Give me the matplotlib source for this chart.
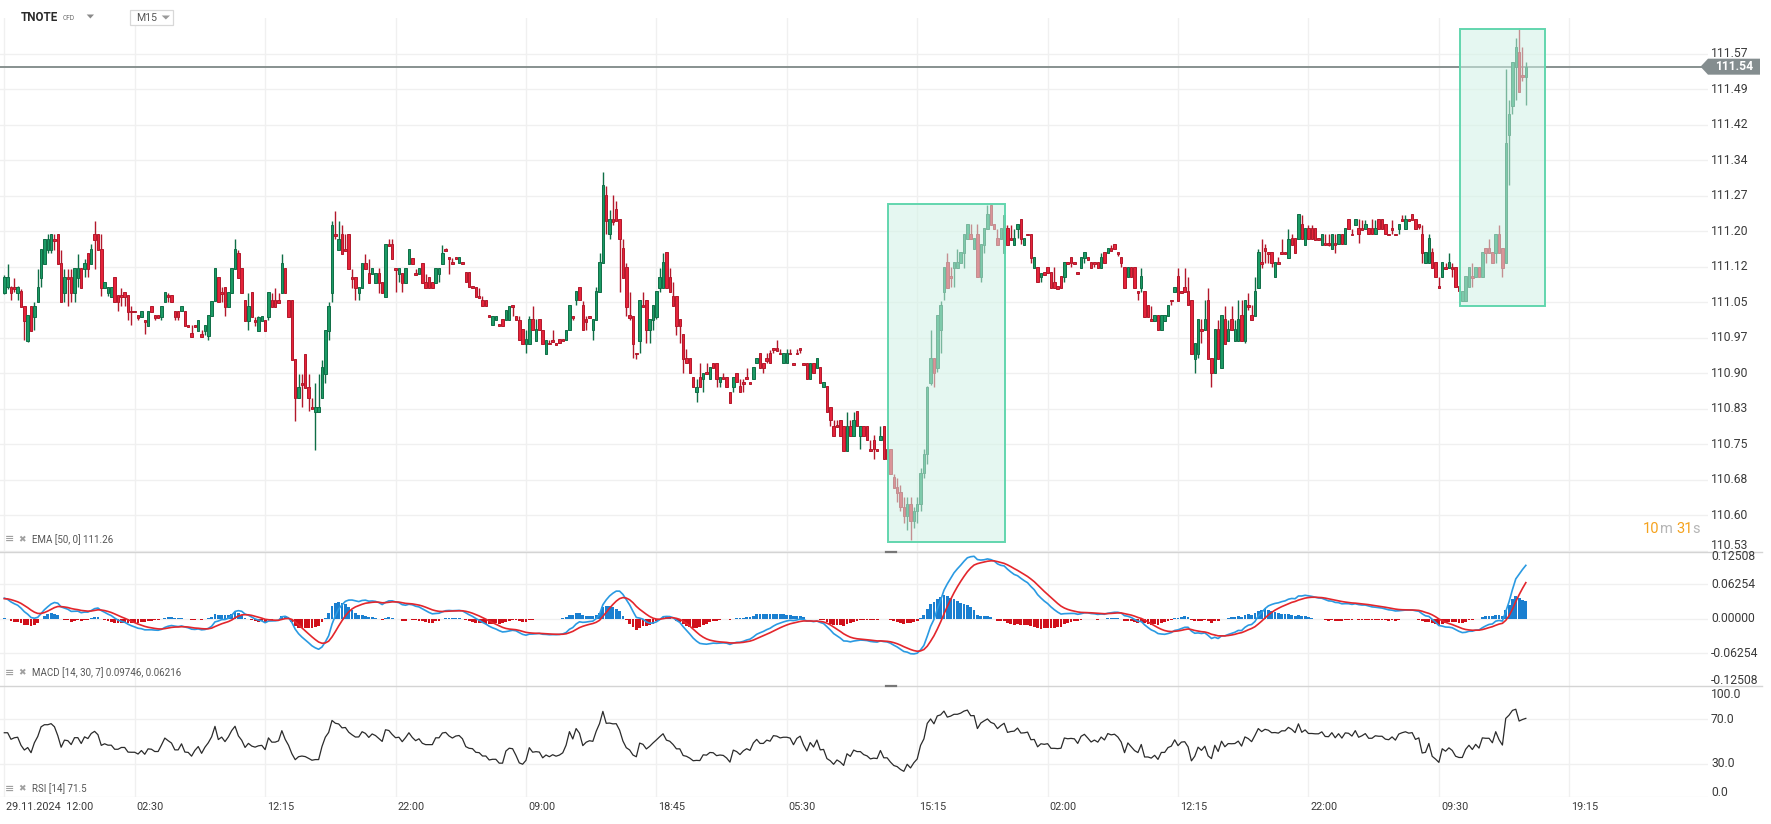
import numpy as np
import pandas as pd
import matplotlib
matplotlib.use("Agg")
import matplotlib.pyplot as plt
from matplotlib.patches import Rectangle, Polygon
from matplotlib import transforms
from matplotlib.lines import Line2D

# ---------------- data (M15 candles) ----------------
open_ = [
111.067,111.079,111.079,111.079,111.067,111.070,111.039,110.967,111.039,111.016,
111.048,111.099,111.128,111.157,111.157,111.180,111.190,111.129,111.067,111.101,
111.100,111.067,111.099,111.119,111.117,111.150,111.128,111.190,111.190,111.159,
111.078,111.067,111.058,111.100,111.062,111.062,111.069,111.062,111.029,111.029,
111.020,111.016,111.011,110.998,111.039,111.020,111.020,111.016,111.048,111.062,
111.062,111.029,111.029,111.029,111.029,111.000,110.982,111.000,110.987,110.980,
110.987,110.977,111.018,111.050,111.100,111.069,111.079,111.037,111.067,111.117,
111.150,111.119,111.051,111.008,111.069,111.011,110.987,111.008,111.011,111.016,
111.051,111.051,111.051,111.067,111.119,111.051,111.051,110.929,110.847,110.879,
110.940,110.870,110.828,110.818,110.818,110.847,110.898,110.987,111.067,111.190,
111.157,111.190,111.159,111.190,111.101,111.100,111.067,111.078,111.129,111.108,
111.107,111.088,111.108,111.090,111.058,111.170,111.170,111.119,111.107,111.108,
111.088,111.128,111.140,111.108,111.107,111.129,111.090,111.100,111.090,111.088,
111.107,111.128,111.159,111.140,111.131,111.140,111.129,111.131,111.110,111.110,
111.080,111.080,111.061,111.051,111.051,111.019,111.000,111.010,111.000,111.012,
111.010,111.010,111.040,111.019,111.010,110.991,110.959,110.959,111.012,110.967,
111.012,110.989,110.939,110.961,110.968,110.961,110.970,110.970,110.968,110.989,
111.019,111.051,111.080,111.042,111.012,111.019,110.989,111.010,111.068,111.129,
111.271,111.190,111.221,111.242,111.221,111.160,111.120,111.021,111.019,110.941,
110.967,111.042,111.051,110.989,111.010,111.017,111.078,111.078,111.152,111.101,
111.061,111.061,111.012,110.981,110.930,110.930,110.890,110.859,110.890,110.887,
110.900,110.887,110.920,110.920,110.880,110.890,110.890,110.860,110.869,110.900,
110.872,110.880,110.890,110.880,110.887,110.920,110.941,110.920,110.930,110.941,
110.951,110.951,110.941,110.920,110.920,110.941,110.920,110.941,110.951,110.920,
110.920,110.887,110.920,110.909,110.911,110.869,110.872,110.829,110.789,110.789,
110.800,110.789,110.737,110.789,110.768,110.820,110.768,110.789,110.789,110.740,
110.759,110.740,110.759,110.789,110.740,110.740,110.681,110.660,110.650,110.620,
110.600,110.625,110.590,110.610,110.625,110.690,110.730,110.878,110.930,110.909,
110.989,111.068,111.131,111.102,111.118,111.118,111.129,111.150,111.179,111.191,
111.158,111.191,111.100,111.168,111.200,111.251,111.211,111.181,111.179,111.151,
111.202,111.181,111.168,111.200,111.221,111.168,111.191,111.191,111.118,111.120,
111.100,111.110,111.120,111.110,111.089,111.081,111.102,111.100,111.131,111.141,
111.131,111.110,111.118,111.139,111.141,111.131,111.131,111.131,111.118,111.152,
111.150,111.160,111.170,111.152,111.141,111.120,111.100,111.120,111.120,111.071,
111.078,111.071,111.042,111.012,111.009,111.020,110.989,111.009,111.019,111.052,
111.069,111.102,111.071,111.080,111.071,111.052,110.928,110.938,110.991,110.989,
111.052,110.930,110.899,110.991,110.909,111.012,110.967,111.012,110.967,110.967,
111.020,110.967,111.042,111.020,111.019,111.078,111.131,111.160,111.152,111.152,
111.100,111.131,111.152,111.152,111.139,111.181,111.181,111.179,111.211,111.168,
111.202,111.202,111.202,111.181,111.168,111.170,111.171,111.158,111.171,111.169,
111.191,111.169,111.221,111.191,111.208,111.202,111.202,111.200,111.202,111.202,
111.189,111.221,111.221,111.211,111.191,111.202,111.191,111.200,111.221,111.200,
111.221,111.231,111.221,111.211,111.191,111.129,111.129,111.152,111.131,111.081,
111.100,111.122,111.118,111.122,111.122,111.081,111.049,111.049,111.079,111.102,
111.100,111.120,111.100,111.160,111.160,111.152,111.150,111.191,111.160,111.129,
111.398,111.458,111.540,111.571,111.523,111.519]

high = [
111.104,111.128,111.082,111.099,111.082,111.076,111.039,111.020,111.039,111.048,
111.117,111.159,111.180,111.189,111.190,111.189,111.190,111.157,111.117,111.117,
111.117,111.119,111.149,111.119,111.138,111.150,111.170,111.218,111.190,111.189,
111.090,111.079,111.079,111.100,111.062,111.078,111.069,111.062,111.039,111.029,
111.020,111.029,111.011,111.029,111.039,111.020,111.020,111.039,111.069,111.067,
111.062,111.029,111.029,111.039,111.029,111.000,110.999,111.000,111.011,110.989,
111.000,111.020,111.050,111.119,111.100,111.079,111.079,111.069,111.119,111.179,
111.157,111.119,111.051,111.067,111.069,111.016,111.018,111.019,111.011,111.069,
111.067,111.078,111.067,111.149,111.119,111.051,111.051,110.929,110.898,110.898,
110.940,110.898,110.847,110.879,110.898,110.927,110.990,111.048,111.218,111.239,
111.218,111.208,111.190,111.190,111.117,111.100,111.079,111.129,111.149,111.138,
111.119,111.108,111.119,111.090,111.170,111.179,111.179,111.119,111.119,111.108,
111.119,111.159,111.140,111.117,111.119,111.129,111.107,111.100,111.090,111.119,
111.119,111.168,111.161,111.140,111.139,111.140,111.141,111.131,111.110,111.110,
111.080,111.080,111.078,111.061,111.051,111.019,111.019,111.019,111.000,111.012,
111.031,111.040,111.040,111.019,111.019,110.991,110.989,111.019,111.039,111.012,
111.012,110.989,110.968,110.968,110.989,110.961,110.970,110.970,110.989,111.042,
111.019,111.070,111.080,111.049,111.019,111.019,111.012,111.080,111.151,111.320,
111.290,111.240,111.271,111.259,111.221,111.179,111.129,111.068,111.019,110.941,
111.051,111.068,111.051,111.012,111.042,111.070,111.118,111.150,111.152,111.118,
111.089,111.061,111.012,110.981,110.950,110.930,110.890,110.887,110.920,110.900,
110.920,110.911,110.920,110.920,110.890,110.900,110.890,110.860,110.890,110.900,
110.887,110.887,110.909,110.880,110.911,110.930,110.941,110.920,110.941,110.948,
110.951,110.968,110.950,110.941,110.950,110.950,110.920,110.950,110.951,110.920,
110.920,110.920,110.920,110.930,110.911,110.880,110.872,110.829,110.800,110.800,
110.800,110.789,110.818,110.800,110.818,110.820,110.789,110.789,110.789,110.759,
110.770,110.740,110.789,110.789,110.740,110.740,110.688,110.679,110.665,110.640,
110.640,110.640,110.620,110.640,110.700,110.740,110.872,110.989,110.930,111.021,
111.050,111.120,111.150,111.120,111.131,111.158,111.152,111.191,111.211,111.211,
111.181,111.211,111.170,111.202,111.251,111.251,111.211,111.200,111.202,111.230,
111.209,111.209,111.200,111.211,111.221,111.181,111.191,111.191,111.141,111.120,
111.109,111.110,111.120,111.110,111.120,111.081,111.102,111.131,111.131,111.141,
111.131,111.110,111.141,111.152,111.141,111.131,111.131,111.131,111.150,111.152,
111.160,111.167,111.170,111.152,111.141,111.120,111.120,111.120,111.120,111.071,
111.118,111.071,111.042,111.040,111.020,111.020,111.020,111.020,111.042,111.052,
111.080,111.118,111.071,111.118,111.100,111.052,110.961,111.012,111.012,111.052,
111.078,110.930,110.991,111.010,111.020,111.040,111.010,111.040,111.010,111.052,
111.052,111.052,111.067,111.042,111.100,111.158,111.179,111.170,111.152,111.152,
111.131,111.141,111.179,111.152,111.200,111.191,111.181,111.231,111.230,111.202,
111.209,111.209,111.202,111.181,111.191,111.191,111.189,111.191,111.189,111.191,
111.191,111.202,111.221,111.200,111.221,111.221,111.219,111.219,111.202,111.221,
111.219,111.221,111.221,111.211,111.191,111.219,111.191,111.211,111.230,111.230,
111.221,111.231,111.221,111.211,111.209,111.152,111.189,111.160,111.131,111.100,
111.131,111.129,111.150,111.129,111.122,111.081,111.070,111.102,111.120,111.129,
111.120,111.120,111.152,111.160,111.179,111.152,111.191,111.209,111.160,111.536,
111.470,111.550,111.599,111.620,111.582,111.550]

low = [
111.065,111.076,111.051,111.069,111.051,111.037,110.968,110.965,110.987,110.989,
111.048,111.079,111.128,111.150,111.150,111.157,111.128,111.048,111.048,111.039,
111.048,111.048,111.079,111.078,111.100,111.100,111.128,111.117,111.157,111.060,
111.078,111.060,111.058,111.048,111.029,111.039,111.039,111.010,110.999,111.026,
111.010,111.016,110.980,110.998,111.027,111.010,111.015,111.010,111.048,111.048,
111.048,111.010,111.010,111.029,110.998,110.996,110.975,110.996,110.987,110.975,
110.978,110.968,111.018,111.050,111.048,111.048,111.018,111.037,111.067,111.117,
111.099,111.067,111.008,110.989,111.016,110.998,110.987,111.008,110.987,111.011,
111.037,111.037,111.046,111.067,111.067,111.016,110.927,110.799,110.847,110.828,
110.868,110.820,110.824,110.739,110.818,110.847,110.879,110.968,111.048,111.179,
111.157,111.149,111.154,111.117,111.078,111.051,111.051,111.078,111.117,111.088,
111.107,111.088,111.067,111.067,111.058,111.165,111.138,111.069,111.090,111.069,
111.088,111.128,111.128,111.105,111.107,111.088,111.078,111.078,111.078,111.088,
111.090,111.128,111.154,111.107,111.127,111.138,111.129,111.127,111.089,111.080,
111.078,111.059,111.057,111.039,111.039,111.017,111.000,111.010,110.998,110.998,
111.010,111.010,111.019,111.010,110.968,110.959,110.941,110.959,110.989,110.967,
110.989,110.959,110.939,110.959,110.965,110.958,110.961,110.967,110.968,110.989,
111.010,111.042,111.051,110.989,110.989,111.015,110.968,111.010,111.068,111.129,
111.190,111.179,111.209,111.218,111.069,111.099,111.019,111.010,110.930,110.929,
110.941,111.038,110.961,110.961,110.989,111.012,111.069,111.078,111.078,111.068,
111.039,110.979,110.961,110.900,110.920,110.899,110.869,110.839,110.869,110.860,
110.897,110.887,110.909,110.871,110.869,110.887,110.869,110.837,110.860,110.880,
110.859,110.860,110.886,110.876,110.887,110.920,110.909,110.900,110.920,110.920,
110.941,110.945,110.938,110.920,110.920,110.938,110.915,110.938,110.941,110.915,
110.887,110.887,110.899,110.909,110.878,110.869,110.818,110.789,110.768,110.786,
110.768,110.737,110.737,110.768,110.768,110.789,110.740,110.768,110.759,110.737,
110.720,110.737,110.759,110.720,110.720,110.688,110.658,110.630,110.610,110.585,
110.570,110.550,110.575,110.585,110.610,110.680,110.710,110.875,110.871,110.902,
110.941,111.052,111.078,111.080,111.080,111.118,111.129,111.118,111.179,111.179,
111.158,111.100,111.090,111.150,111.200,111.209,111.200,111.168,111.179,111.151,
111.168,111.177,111.168,111.181,111.170,111.168,111.187,111.130,111.118,111.089,
111.090,111.105,111.109,111.078,111.078,111.076,111.078,111.090,111.127,111.120,
111.127,111.106,111.118,111.130,111.136,111.118,111.122,111.118,111.118,111.129,
111.150,111.155,111.158,111.144,111.120,111.078,111.100,111.100,111.078,111.052,
111.069,111.017,111.017,111.008,111.009,110.989,110.989,111.009,111.019,111.042,
111.069,111.049,111.067,111.069,111.042,110.938,110.900,110.930,110.961,110.989,
110.928,110.871,110.899,110.928,110.909,110.960,110.967,110.989,110.967,110.967,
110.967,110.961,111.031,111.010,111.019,111.078,111.118,111.130,111.130,111.120,
111.100,111.127,111.148,111.148,111.139,111.168,111.150,111.179,111.179,111.168,
111.179,111.179,111.177,111.177,111.168,111.167,111.164,111.158,111.151,111.169,
111.169,111.169,111.200,111.187,111.208,111.171,111.198,111.200,111.189,111.189,
111.189,111.200,111.200,111.189,111.187,111.191,111.187,111.191,111.217,111.200,
111.217,111.219,111.200,111.200,111.129,111.129,111.129,111.118,111.100,111.077,
111.100,111.116,111.118,111.101,111.079,111.070,111.049,111.049,111.079,111.080,
111.100,111.100,111.100,111.129,111.150,111.129,111.129,111.150,111.101,111.129,
111.293,111.442,111.470,111.488,111.510,111.460]

close = [
111.100,111.100,111.067,111.076,111.079,111.037,111.008,111.020,110.987,111.039,
111.079,111.159,111.180,111.180,111.190,111.175,111.128,111.048,111.100,111.096,
111.067,111.119,111.119,111.078,111.129,111.117,111.159,111.178,111.157,111.078,
111.090,111.079,111.079,111.048,111.048,111.058,111.058,111.027,111.026,111.026,
111.015,111.029,111.007,111.029,111.027,111.015,111.015,111.039,111.069,111.058,
111.048,111.016,111.016,111.039,110.998,110.996,110.975,110.996,111.011,110.975,
111.000,111.020,111.050,111.119,111.048,111.065,111.037,111.069,111.119,111.159,
111.099,111.067,111.008,111.039,111.016,111.007,111.016,111.019,110.987,111.069,
111.037,111.037,111.046,111.129,111.067,111.016,110.927,110.847,110.870,110.875,
110.868,110.847,110.824,110.828,110.828,110.911,110.990,111.039,111.209,111.186,
111.180,111.149,111.154,111.117,111.096,111.078,111.079,111.129,111.117,111.088,
111.119,111.108,111.088,111.067,111.170,111.165,111.138,111.115,111.119,111.088,
111.119,111.159,111.128,111.105,111.119,111.088,111.078,111.078,111.078,111.119,
111.119,111.150,111.154,111.137,111.127,111.138,111.141,111.127,111.089,111.080,
111.078,111.059,111.057,111.039,111.039,111.017,111.019,111.019,110.998,110.998,
111.031,111.040,111.038,111.010,110.968,110.959,110.970,111.012,110.989,110.991,
110.989,110.959,110.968,110.959,110.965,110.958,110.961,110.967,110.989,111.042,
111.015,111.070,111.051,110.989,111.007,111.015,111.012,111.070,111.131,111.292,
111.218,111.221,111.216,111.218,111.179,111.099,111.038,111.015,110.959,110.938,
111.051,111.038,110.989,111.012,111.042,111.070,111.101,111.131,111.078,111.068,
111.039,110.998,110.998,110.929,110.920,110.899,110.869,110.871,110.869,110.900,
110.897,110.911,110.909,110.887,110.890,110.887,110.869,110.837,110.890,110.880,
110.859,110.876,110.886,110.876,110.911,110.930,110.909,110.909,110.925,110.920,
110.947,110.945,110.938,110.941,110.941,110.938,110.915,110.938,110.947,110.915,
110.887,110.920,110.899,110.930,110.878,110.880,110.818,110.800,110.768,110.786,
110.768,110.737,110.789,110.768,110.800,110.789,110.789,110.768,110.759,110.737,
110.740,110.737,110.768,110.720,110.720,110.688,110.658,110.648,110.620,110.600,
110.625,110.590,110.610,110.625,110.690,110.730,110.870,110.930,110.899,111.021,
111.042,111.120,111.078,111.097,111.131,111.131,111.152,111.191,111.211,111.179,
111.181,111.100,111.170,111.202,111.231,111.209,111.200,111.168,111.202,111.230,
111.168,111.177,111.181,111.211,111.179,111.181,111.187,111.139,111.141,111.089,
111.109,111.105,111.109,111.078,111.078,111.076,111.078,111.131,111.127,111.129,
111.127,111.106,111.141,111.152,111.136,111.118,111.127,111.118,111.141,111.129,
111.160,111.155,111.158,111.148,111.129,111.078,111.120,111.100,111.078,111.066,
111.102,111.017,111.017,111.008,111.020,110.989,111.020,111.020,111.042,111.049,
111.080,111.049,111.067,111.069,111.042,110.938,110.961,111.012,110.987,111.012,
110.928,110.899,110.991,110.928,111.020,110.960,110.991,110.989,110.991,111.012,
110.967,111.052,111.037,111.010,111.071,111.152,111.127,111.155,111.148,111.129,
111.131,111.127,111.148,111.148,111.179,111.168,111.150,111.231,111.179,111.202,
111.179,111.179,111.177,111.177,111.191,111.167,111.166,111.191,111.166,111.191,
111.169,111.202,111.200,111.187,111.221,111.189,111.198,111.211,111.189,111.189,
111.202,111.200,111.200,111.189,111.187,111.198,111.187,111.211,111.217,111.221,
111.217,111.219,111.200,111.205,111.150,111.152,111.181,111.118,111.100,111.077,
111.131,111.116,111.131,111.116,111.079,111.070,111.070,111.102,111.120,111.097,
111.120,111.100,111.152,111.150,111.150,111.129,111.191,111.150,111.118,111.381,
111.442,111.550,111.582,111.488,111.518,111.540]

time_labels = ["29.11.2024  12:00", "02:30", "12:15", "22:00", "09:00", "18:45",
               "05:30", "15:15", "02:00", "12:15", "22:00", "09:30", "19:15"]
bars_per_label = 39

price_labels = ["110.53", "110.60", "110.68", "110.75", "110.83", "110.90", "110.97",
                "111.05", "111.12", "111.20", "111.27", "111.34", "111.42", "111.49", "111.57"]
price_grid_start = 110.528
price_grid_step = 0.07425
macd_labels = ["0.12508", "0.06254", "0.00000", "-0.06254", "-0.12508"]
macd_grid = [0.06254, 0.0, -0.06254]
rsi_labels = ["100.0", "70.0", "30.0", "0.0"]
rsi_grid = [70, 30, 0]
last_price = 111.54

box_start = [264.35, 435.4]
box_end = [299.3, 460.6]
box_low = [110.545, 111.039]
box_high = [111.252, 111.618]

macd_fast, macd_slow, macd_sig = 14, 30, 7
rsi_period = 14
# indicator readings at the left edge of the chart (history before the first bar)
macd_at_start = 0.040
signal_at_start = 0.036
rsi_at_start = 58.0

# ---------------- layout helpers ----------------
W, H = 1771, 824
plt.rcParams['font.family'] = ['Roboto', 'DejaVu Sans']
fig = plt.figure(figsize=(W / 100, H / 100), dpi=100)
fig.patch.set_facecolor('white')

def rect(l, t, r, b):
    return [l / W, 1 - b / H, (r - l) / W, (b - t) / H]

def fx(px):
    return px / W

def fy(py):
    return 1 - py / H

PLOT_R = 1708
ax = fig.add_axes(rect(0, 18, PLOT_R, 552))
axm = fig.add_axes(rect(0, 552, PLOT_R, 686))
axr = fig.add_axes(rect(0, 686, PLOT_R, 797.3))

n = len(close)
idx = np.arange(n)
o = np.array(open_); hi = np.array(high); lo = np.array(low); cl = np.array(close)
xlim = (-1.286, 509.48)

GRID = '#f0f0f0'
for a in (ax, axm, axr):
    a.set_xlim(*xlim)
    a.set_axis_off()
    for k in range(len(time_labels)):
        a.axvline(k * bars_per_label, color=GRID, lw=1, zorder=0)

# ---------------- main price panel ----------------
ax.set_ylim(110.5249, 111.6418)
grid_vals = [price_grid_start + k * price_grid_step for k in range(len(price_labels))]
for v in grid_vals:
    ax.axhline(v, color=GRID, lw=1, zorder=0)

ax.axhline(last_price, color='#87918f', lw=1.4, zorder=1)

up = cl >= o
edge = np.where(up, '#0f6e46', '#b3182b')
face = np.where(up, '#1b9a65', '#e5233a')
wlo = np.minimum(lo, np.minimum(o, cl))
whi = np.maximum(hi, np.maximum(o, cl))
ax.vlines(idx, wlo, whi, colors=edge, lw=1.0, zorder=2)
body_lo = np.minimum(o, cl)
body_h = np.maximum(np.abs(cl - o), 0.004)
ax.bar(idx, body_h, bottom=body_lo, width=0.74, color=face, edgecolor=edge,
       linewidth=0.7, zorder=3)

for x0, x1, y0, y1 in zip(box_start, box_end, box_low, box_high):
    ax.add_patch(Rectangle((x0, y0), x1 - x0, y1 - y0, facecolor=(0.82, 0.95, 0.90),
                           alpha=0.55, edgecolor='none', zorder=4))
    ax.add_patch(Rectangle((x0, y0), x1 - x0, y1 - y0, fill=False,
                           edgecolor='#62d6ae', lw=1.4, zorder=5))

# right price labels
TXT = '#3a3a3a'
lab_tr = transforms.blended_transform_factory(fig.transFigure, ax.transData)
for k, (v, s) in enumerate(zip(grid_vals, price_labels)):
    tr = lab_tr
    if k == 0:
        tr = transforms.offset_copy(lab_tr, fig=fig, y=5.5, units='dots')
    fig.text(fx(1711), v, s, transform=tr, ha='left', va='center',
             fontsize=8.7, color=TXT)

# price tag
tag_y = ax.transData.transform((0, last_price))[1]
ty = H - tag_y
tag = Polygon([(fx(1700.5), fy(ty)), (fx(1708), fy(ty - 8)), (fx(1760), fy(ty - 8)),
               (fx(1760), fy(ty + 8)), (fx(1708), fy(ty + 8))], closed=True,
              transform=fig.transFigure, facecolor='#848d8f', edgecolor='none')
fig.patches.append(tag)
fig.text(fx(1734), fy(ty), f"{last_price:.2f}", ha='center', va='center',
         fontsize=8.7, color='white', fontweight='bold')

# ---------------- MACD panel ----------------
def ema(values, span, start):
    alpha = 2.0 / (span + 1)
    out = np.empty(len(values))
    prev = start
    for i, v in enumerate(values):
        prev = alpha * v + (1 - alpha) * prev
        out[i] = prev
    return out

fast = ema(cl, macd_fast, cl[0])
slow = ema(cl, macd_slow, cl[0] - macd_at_start)
macd = fast - slow
signal = ema(macd, macd_sig, signal_at_start)
hist = macd - signal

axm.set_ylim(-0.1223, 0.1212)
for v in macd_grid:
    axm.axhline(v, color=GRID, lw=1, zorder=0)
hcol = np.where(hist >= 0, '#1a7fd0', '#d0101a')
axm.bar(idx, hist, width=0.85, color=hcol, zorder=2)
axm.plot(idx, macd, color='#2a9ae2', lw=1.2, zorder=3)
axm.plot(idx, signal, color='#e3262c', lw=1.2, zorder=3)

m_tr = transforms.blended_transform_factory(fig.transFigure, axm.transData)
macd_label_pos = [0.1127, 0.06254, 0.0, -0.06254, -0.1127]
for v, s in zip(macd_label_pos, macd_labels):
    fig.text(fx(1711), v, s, transform=m_tr, ha='left', va='center', fontsize=8.7, color=TXT)

# ---------------- RSI panel (Wilder smoothing) ----------------
delta = np.diff(cl, prepend=cl[0])
scale = np.mean(np.abs(delta[1:rsi_period + 1]))
avg_g = scale * rsi_at_start / 100.0
avg_l = scale * (1 - rsi_at_start / 100.0)
rsi = np.empty(n)
for i in range(n):
    d = delta[i]
    avg_g = (avg_g * (rsi_period - 1) + max(d, 0)) / rsi_period
    avg_l = (avg_l * (rsi_period - 1) + max(-d, 0)) / rsi_period
    rsi[i] = 100 - 100 / (1 + avg_g / avg_l) if avg_l > 0 else 100

axr.set_ylim(0, 100)
for v in rsi_grid:
    axr.axhline(v, color=GRID, lw=1, zorder=0)
axr.plot(idx, rsi, color='#2b2b2b', lw=0.9, zorder=3)
r_tr = transforms.blended_transform_factory(fig.transFigure, axr.transData)
rsi_label_pos = [92.6, 70, 30, 4.5]
for v, s in zip(rsi_label_pos, rsi_labels):
    fig.text(fx(1711), v, s, transform=r_tr, ha='left', va='center', fontsize=8.7, color=TXT)

# ---------------- separators ----------------
for yy in (552, 686):
    fig.add_artist(Line2D([0, fx(1762)], [fy(yy), fy(yy)], color='#d4d4d4', lw=1))
    fig.add_artist(Line2D([fx(886), fx(896)], [fy(yy), fy(yy)], color='#777777', lw=1.6))

# ---------------- x labels ----------------
from matplotlib import font_manager
names = {f.name for f in font_manager.fontManager.ttflist}
xfam = 'Liberation Sans Narrow' if 'Liberation Sans Narrow' in names else 'Roboto'
x_tr = transforms.offset_copy(transforms.blended_transform_factory(axr.transData, fig.transFigure),
                              fig=fig, x=2, units='dots')
for k, s in enumerate(time_labels):
    fig.text(k * bars_per_label, fy(806.5), s, transform=x_tr, ha='left', va='center',
             fontsize=7.8, color=TXT, family=xfam)

# ---------------- indicator labels ----------------
ICON = '#a0a0a0'
for yy, s in ((539.3, "EMA [50, 0] 111.26"), (673.0, "MACD [14, 30, 7] 0.09746, 0.06216"),
              (788.5, "RSI [14] 71.5")):
    fig.text(fx(5), fy(yy), "≡", ha='left', va='center', fontsize=8, color=ICON,
             family='DejaVu Sans', fontweight='bold')
    fig.text(fx(18), fy(yy), "✖", ha='left', va='center', fontsize=6.5, color=ICON,
             family='DejaVu Sans')
    fig.text(fx(31.5), fy(yy), s, ha='left', va='center', fontsize=7, color='#555555')

# ---------------- header ----------------
fig.text(fx(20.5), fy(17.7), "TNOTE", ha='left', va='center', fontsize=8.4,
         fontweight='bold', color='#2b2b2b')
fig.text(fx(62.3), fy(18.5), "CFD", ha='left', va='center', fontsize=4.8, color='#6a6a6a')
fig.patches.append(Polygon([(fx(86.7), fy(14.5)), (fx(94), fy(14.5)), (fx(90.35), fy(18.5))],
                           closed=True, transform=fig.transFigure, facecolor='#8a8a8a',
                           edgecolor='none'))
fig.patches.append(Rectangle((fx(130.3), fy(25.3)), fx(173.3) - fx(130.3), fy(10) - fy(25.3),
                             transform=fig.transFigure, facecolor='white',
                             edgecolor='#d8d8d8', lw=0.9, zorder=5))
fig.text(fx(136), fy(18), "M15", ha='left', va='center', fontsize=7.6, color='#555555',
         zorder=6)
fig.patches.append(Polygon([(fx(161.7), fy(15.5)), (fx(170), fy(15.5)), (fx(165.85), fy(19.5))],
                           closed=True, transform=fig.transFigure, facecolor='#9a9a9a',
                           edgecolor='none', zorder=6))

# ---------------- countdown ----------------
renderer = fig.canvas.get_renderer()
xpos = 1643.0
for s, col in (("10", '#f5a21d'), ("m ", '#b5b5b5'), ("31", '#f5a21d'), ("s", '#b5b5b5')):
    t = fig.text(fx(xpos), fy(529), s, ha='left', va='center', fontsize=10.5, color=col)
    xpos += t.get_window_extent(renderer).width

fig.savefig("out.png", dpi=100, facecolor='white')
